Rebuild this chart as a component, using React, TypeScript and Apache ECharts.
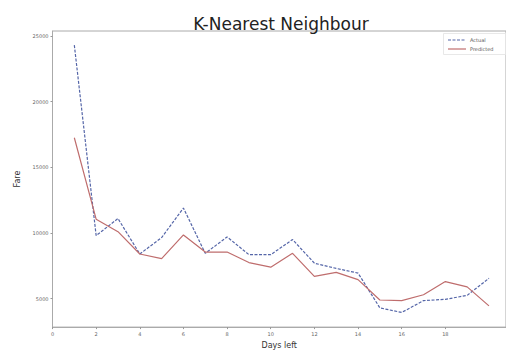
import React, { useEffect, useRef } from "react";
import * as echarts from "echarts";

const days = [1, 2, 3, 4, 5, 6, 7, 8, 9, 10, 11, 12, 13, 14, 15, 16, 17, 18, 19, 20];
const actualFare = [24300, 9800, 11100, 8400, 9650, 11900, 8450, 9700, 8350, 8350, 9500, 7700, 7300, 6950, 4300, 3950, 4850, 4950, 5250, 6550];
const predictedFare = [17250, 11050, 10100, 8400, 8050, 9850, 8550, 8550, 7750, 7400, 8450, 6700, 7000, 6450, 4900, 4850, 5300, 6300, 5900, 4450];
const yTicks = [5000, 10000, 15000, 20000, 25000];
const xTicks = [0, 2, 4, 6, 8, 10, 12, 14, 16, 18];
const legendNames = ["Actual", "Predicted"];

const BLUE = "#5566a8";
const RED = "#bf6d6d";

export default function App() {
  const ref = useRef<HTMLDivElement>(null);
  useEffect(() => {
    if (!ref.current) return;
    const chart = echarts.init(ref.current, null, { renderer: "svg" });
    const font = "DejaVu Sans";
    chart.setOption({
      animation: false,
      backgroundColor: "#fff",
      title: {
        text: "K-Nearest Neighbour",
        left: 276,
        top: 10,
        textAlign: "center",
        textStyle: { fontFamily: font, fontSize: 17, fontWeight: "normal", color: "#222" },
      },
      graphic: [
        {
          type: "rect",
          shape: { x: 443.5, y: 33.5, width: 62, height: 21 },
          style: { fill: "#fff", stroke: "#e2e2e2", lineWidth: 0.8 },
          z: 10,
        },
        {
          type: "line",
          shape: { x1: 448, y1: 40, x2: 466, y2: 40 },
          style: { stroke: BLUE, lineWidth: 1.2, lineDash: [3, 1.5] },
          z: 11,
        },
        {
          type: "text",
          x: 470,
          y: 40,
          style: { text: legendNames[0], fontFamily: font, fontSize: 5, fill: "#555", verticalAlign: "middle" },
          z: 11,
        },
        {
          type: "line",
          shape: { x1: 448, y1: 49, x2: 466, y2: 49 },
          style: { stroke: RED, lineWidth: 1.2 },
          z: 11,
        },
        {
          type: "text",
          x: 470,
          y: 49,
          style: { text: legendNames[1], fontFamily: font, fontSize: 5, fill: "#555", verticalAlign: "middle" },
          z: 11,
        },
      ],
      grid: {
        left: 52.5,
        right: 0,
        top: 31,
        bottom: 21,
        show: true,
        borderColor: "#aaa",
        borderWidth: 1,
      },
      xAxis: {
        type: "value",
        min: 0,
        max: 20.78,
        name: "Days left",
        nameLocation: "middle",
        nameGap: 11,
        nameTextStyle: { fontFamily: font, fontSize: 8, color: "#333" },
        axisLine: { show: true, lineStyle: { color: "#aaa" } },
        axisTick: { show: true, length: 2, lineStyle: { color: "#999" }, customValues: xTicks },
        axisLabel: { fontFamily: font, fontSize: 5, color: "#666", margin: 4, customValues: xTicks, formatter: (v: number) => String(v) },
        splitLine: { show: false },
      },
      yAxis: {
        type: "value",
        min: 2836,
        max: 25373,
        name: "Fare",
        nameLocation: "middle",
        nameGap: 31,
        nameTextStyle: { fontFamily: font, fontSize: 8, color: "#333" },
        axisLine: { show: true, lineStyle: { color: "#aaa" } },
        axisTick: { show: true, length: 2, lineStyle: { color: "#999" }, customValues: yTicks },
        axisLabel: { fontFamily: font, fontSize: 5, color: "#666", margin: 4, customValues: yTicks, formatter: (v: number) => String(v) },
        splitLine: { show: false },
      },
      series: [
        {
          name: legendNames[0],
          type: "line",
          data: days.map((d, i) => [d, actualFare[i]]),
          symbol: "none",
          lineStyle: { color: BLUE, width: 1.2, type: [3, 1.5] },
          itemStyle: { color: BLUE },
        },
        {
          name: legendNames[1],
          type: "line",
          data: days.map((d, i) => [d, predictedFare[i]]),
          symbol: "none",
          lineStyle: { color: RED, width: 1.2 },
          itemStyle: { color: RED },
        },
      ],
    });
    return () => chart.dispose();
  }, []);
  return <div ref={ref} style={{ position: "fixed", left: 0, top: 0, width: 506, height: 354 }} />;
}
